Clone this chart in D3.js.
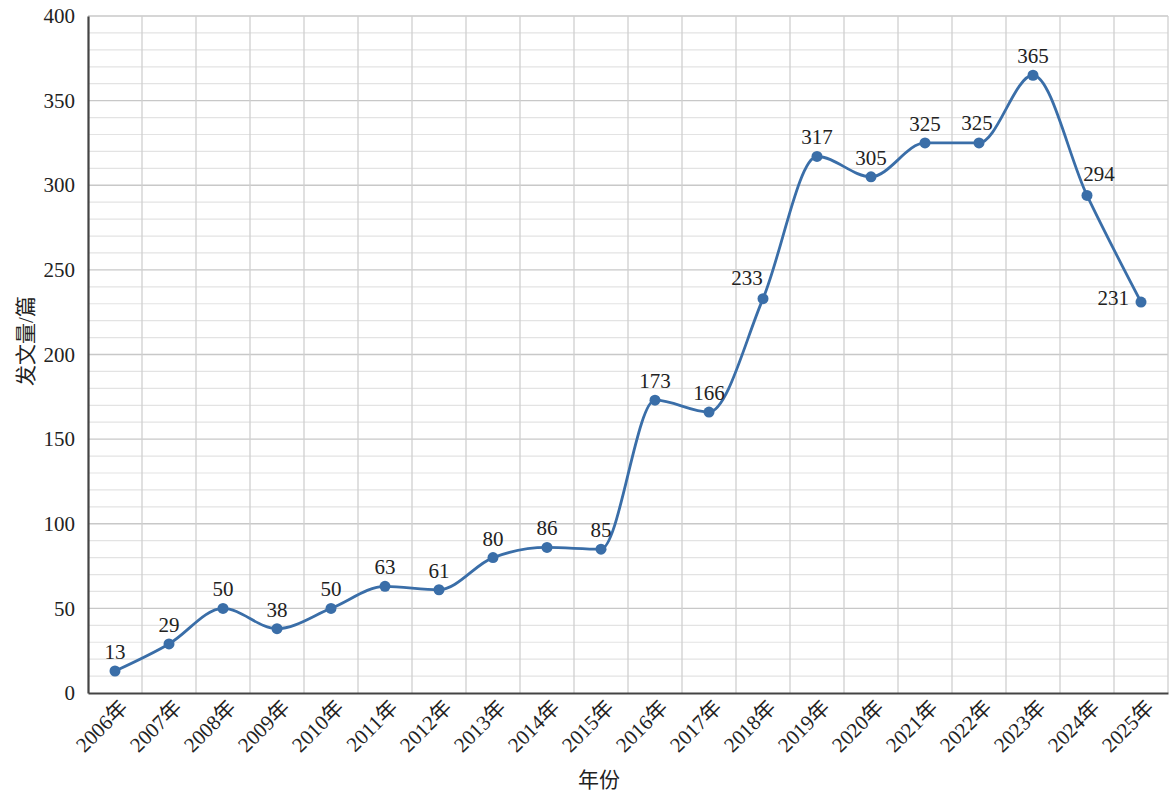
<!DOCTYPE html>
<html><head><meta charset="utf-8">
<script src="https://cdn.jsdelivr.net/npm/d3@7"></script>
<style>
body{margin:0;background:#fff;}
text{font-family:"Liberation Serif","Noto Sans CJK SC",serif;fill:#222;}
</style></head>
<body><svg id="c" width="1173" height="792"></svg>
<script>
const years = ["2006年","2007年","2008年","2009年","2010年","2011年","2012年","2013年","2014年","2015年","2016年","2017年","2018年","2019年","2020年","2021年","2022年","2023年","2024年","2025年"];
const counts = [13,29,50,38,50,63,61,80,86,85,173,166,233,317,305,325,325,365,294,231];
const yTicks = [0,50,100,150,200,250,300,350,400];
const xTitle = "年份";
const yTitle = "发文量/篇";
// label placement offsets (styling)
const labelOffsets = {12:[-16,-14],16:[-2,-13],18:[12,-14],19:[-12,3]};

const FS = "21px";
const svg = d3.select("#c");
const m = {l:88,r:5,t:16,b:99};
const W = 1173, H = 792;
const x = d3.scaleBand().domain(years).range([m.l, W-m.r]).padding(0);
const y = d3.scaleLinear().domain([0,400]).range([H-m.b, m.t]);
const g = svg.append("g");

// minor grid
g.selectAll("line.minor").data(d3.range(0,401,10).filter(v=>v%50!==0)).join("line")
 .attr("x1",m.l).attr("x2",W-m.r).attr("y1",d=>y(d)).attr("y2",d=>y(d))
 .attr("stroke","#e3e3e3").attr("stroke-width",1.2);
// major grid
g.selectAll("line.major").data(yTicks.filter(v=>v>0)).join("line")
 .attr("x1",m.l).attr("x2",W-m.r).attr("y1",d=>y(d)).attr("y2",d=>y(d))
 .attr("stroke","#c8c8c8").attr("stroke-width",1.3);
// vertical grid
g.selectAll("line.v").data(years).join("line")
 .attr("x1",d=>x(d)+x.bandwidth()).attr("x2",d=>x(d)+x.bandwidth())
 .attr("y1",m.t).attr("y2",H-m.b)
 .attr("stroke","#cfcfcf").attr("stroke-width",1.3);

// axes
const xAxis = svg.append("g").attr("transform",`translate(0,${H-m.b})`)
 .call(d3.axisBottom(x).tickSize(0).tickPadding(0));
xAxis.select(".domain").attr("stroke","#444").attr("stroke-width",2.2);
xAxis.selectAll("text").style("font-size",FS)
 .attr("text-anchor","end").attr("dy",null).attr("y",0)
 .attr("transform","translate(14,16) rotate(-45)");

const yAxis = svg.append("g").attr("transform",`translate(${m.l},0)`)
 .call(d3.axisLeft(y).tickValues(yTicks).tickSize(0).tickPadding(13));
yAxis.select(".domain").attr("stroke","#444").attr("stroke-width",2.2);
yAxis.selectAll("text").style("font-size",FS);

// titles
svg.append("text").attr("x",599).attr("y",787).attr("text-anchor","middle").style("font-size",FS).text(xTitle);
svg.append("text").attr("transform","translate(33,341) rotate(-90)").attr("text-anchor","middle").style("font-size",FS).text(yTitle);

// line
const cx = d=>x(d)+x.bandwidth()/2;
const line = d3.line().x((d,i)=>cx(years[i])).y(d=>y(d)).curve(d3.curveMonotoneX);
svg.append("path").datum(counts).attr("d",line).attr("fill","none")
 .attr("stroke","#3a6ea8").attr("stroke-width",2.8);
svg.selectAll("circle.pt").data(counts).join("circle")
 .attr("cx",(d,i)=>cx(years[i])).attr("cy",d=>y(d)).attr("r",5.5).attr("fill","#3a6ea8");
svg.selectAll("text.lbl").data(counts).join("text")
 .attr("x",(d,i)=>cx(years[i])+(labelOffsets[i]?labelOffsets[i][0]:0))
 .attr("y",(d,i)=>y(d)+(labelOffsets[i]?labelOffsets[i][1]:-12))
 .attr("text-anchor",(d,i)=>i===19?"end":"middle")
 .style("font-size",FS).text(d=>d);
</script></body></html>
